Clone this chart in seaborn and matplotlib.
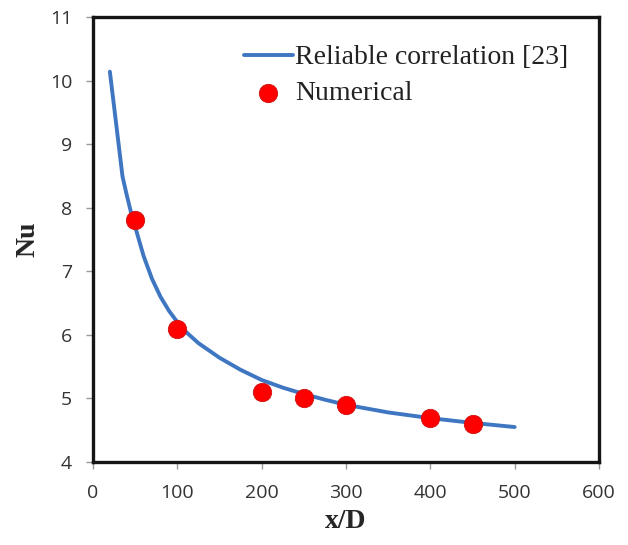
import matplotlib
matplotlib.use("Agg")
import matplotlib.pyplot as plt
import seaborn as sns
import pandas as pd

# Correlation curve
corr_x = [20, 30, 35, 40, 45, 50, 60, 70, 80, 90, 100, 110, 125, 150, 175, 200,
          225, 250, 275, 300, 350, 400, 450, 500]
corr_nu = [10.14, 9.04, 8.49, 8.20, 7.93, 7.70, 7.24, 6.88, 6.60, 6.38, 6.20, 6.05,
           5.87, 5.64, 5.45, 5.29, 5.17, 5.07, 4.98, 4.90, 4.78, 4.69, 4.615, 4.55]

# Numerical points
num_x = [50, 100, 200, 250, 300, 400, 450]
num_nu = [7.8, 6.1, 5.1, 5.0, 4.9, 4.7, 4.6]

x_ticks = [0, 100, 200, 300, 400, 500, 600]
y_ticks = [4, 5, 6, 7, 8, 9, 10, 11]

sns.set_style("white")

corr_df = pd.DataFrame({"x/D": corr_x, "Nu": corr_nu})
num_df = pd.DataFrame({"x/D": num_x, "Nu": num_nu})

fig = plt.figure(figsize=(6.28, 5.45), dpi=100)
ax = fig.add_axes([93/628, 1 - 462/545, (599-93)/628, (462-17)/545])

sns.lineplot(data=corr_df, x="x/D", y="Nu", ax=ax, color="#3f76c2", linewidth=2.8,
             label="Reliable correlation [23]", sort=False)
sns.scatterplot(data=num_df, x="x/D", y="Nu", ax=ax, color="#ff0000", s=175,
                edgecolor="#d01010", linewidth=0.6, label="Numerical", zorder=5)

ax.set_xlim(0, 600)
ax.set_ylim(4, 11)
ax.set_xticks(x_ticks)
ax.set_yticks(y_ticks)
tick_font = "Open Sans"
ax.set_xticklabels([str(t) for t in x_ticks], fontfamily=tick_font, fontsize=14, color="#333333")
ax.set_yticklabels([str(t) for t in y_ticks], fontfamily=tick_font, fontsize=14, color="#333333")
ax.tick_params(axis="both", direction="out", length=5, width=1, color="#999999",
               bottom=True, left=True, top=False, right=False)
ax.tick_params(axis="x", pad=11)
ax.tick_params(axis="y", pad=10)

for s in ax.spines.values():
    s.set_color("#151515")
    s.set_linewidth(2.4)

ax.set_xlabel("x/D", fontfamily="Liberation Serif", fontweight="bold", fontsize=20)
ax.set_ylabel("Nu", fontfamily="Liberation Serif", fontweight="bold", fontsize=20)
ax.xaxis.label.set_va("center")
ax.yaxis.label.set_va("center")
ax.xaxis.set_label_coords(0.5, (462 - 522) / 445)
ax.yaxis.set_label_coords((28 - 93) / 506, 0.5)

leg = ax.legend(loc="upper left", bbox_to_anchor=(0.298, 0.937), frameon=False,
                prop={"family": "Liberation Serif", "size": 20},
                handlelength=1.76, handletextpad=0.1, borderpad=0, borderaxespad=0,
                labelspacing=0.36)
for t in leg.get_texts():
    t.set_color("#222222")

fig.savefig("out.png", dpi=100)
